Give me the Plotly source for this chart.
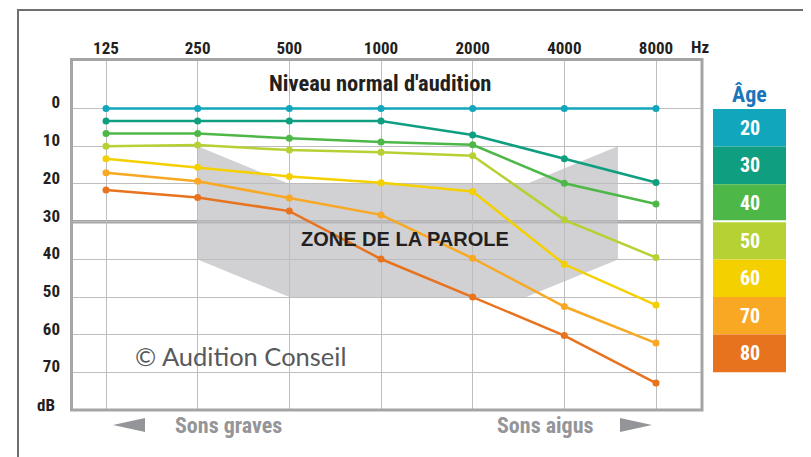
import numpy as np
import plotly.graph_objects as go

# audiogram data (dB hearing loss per frequency, by age group)
freqs = [125, 250, 500, 1000, 2000, 4000, 8000]
freq_labels = ["125", "250", "500", "1000", "2000", "4000", "8000"]
db_ticks = [0, 10, 20, 30, 40, 50, 60, 70]
ages = ["20", "30", "40", "50", "60", "70", "80"]
loss_20 = [0, 0, 0, 0, 0, 0, 0]
loss_30 = [3.3, 3.3, 3.3, 3.3, 7.0, 13.3, 19.6]
loss_40 = [6.6, 6.6, 7.9, 8.9, 9.6, 19.8, 25.3]
loss_50 = [10.0, 9.7, 11.0, 11.6, 12.5, 29.5, 39.5]
loss_60 = [13.3, 15.6, 18.0, 19.7, 22.0, 41.3, 52.1]
loss_70 = [17.0, 19.3, 23.7, 28.2, 39.7, 52.5, 62.2]
loss_80 = [21.6, 23.6, 27.2, 39.9, 50.0, 60.2, 72.8]
# speech zone outline
zone_freqs = [250, 500, 3000, 6000, 6000, 3000, 500, 250]
zone_db = [10, 20, 20, 10, 40, 50, 50, 40]

colors = ["#12a6bd", "#109e80", "#4db848", "#b6d134", "#f4d000", "#f8a822", "#e8731f"]
series = [loss_20, loss_30, loss_40, loss_50, loss_60, loss_70, loss_80]

NARROW = "Liberation Sans Narrow, Roboto Condensed, DejaVu Sans Condensed, Arial Narrow, sans-serif"

# plot area in page pixels: x 70..703, y 58..411 (page body has an 8px margin)
def px(x):
    return (x - 70) / 633.0

def py(y):
    return (411 - y) / 353.0

fig = go.Figure()

# semi-transparent so the grid still shows through the speech zone
fig.add_trace(go.Scatter(
    x=zone_freqs, y=zone_db, fill="toself", mode="lines",
    line=dict(width=0), fillcolor="rgba(189,190,193,0.7)",
    hoverinfo="skip", showlegend=False))

for age, vals, col in zip(ages, series, colors):
    fig.add_trace(go.Scatter(
        x=freqs, y=vals, mode="lines+markers", name=age,
        line=dict(color=col, width=2.5), marker=dict(color=col, size=7),
        showlegend=False))

lx = np.log10(2)
fig.update_xaxes(
    type="log", side="top",
    range=[np.log10(freqs[0]) - 36 / 91.67 * lx, np.log10(freqs[-1]) + 47 / 91.67 * lx],
    tickvals=freqs, ticktext=["<b>%s</b>" % t for t in freq_labels],
    tickfont=dict(family=NARROW, size=17, color="#231f20"),
    showgrid=True, gridcolor="#bdbdbd", gridwidth=1, zeroline=False,
    ticks="", showline=False)
fig.update_yaxes(
    range=[80.2, -13.4], tickvals=db_ticks,
    ticktext=["<b>%d</b>" % t for t in db_ticks],
    tickfont=dict(family=NARROW, size=17, color="#231f20"),
    showgrid=True, gridcolor="#bdbdbd", gridwidth=1, zeroline=False,
    ticks="", showline=False, ticklabelstandoff=9, ticklabelshift=6)

shapes = []
# thick 30 dB line
shapes.append(dict(type="line", xref="paper", yref="y", x0=0, x1=1, y0=30, y1=30,
                   line=dict(color="#a5a5a7", width=3.5), layer="between"))
# plot frame
shapes.append(dict(type="rect", xref="paper", yref="paper", x0=px(71.5), x1=px(702), y0=py(410), y1=py(59.5),
                   line=dict(color="#a5a5a7", width=3)))
# outer border
shapes.append(dict(type="rect", xref="paper", yref="paper", x0=px(18), x1=px(830), y0=py(480), y1=py(10),
                   line=dict(color="#6d6e70", width=2)))
# direction arrows
shapes.append(dict(type="path", xref="paper", yref="paper",
                   path="M %f %f L %f %f L %f %f Z" % (px(113), py(425), px(145), py(418), px(145), py(432)),
                   fillcolor="#939598", line=dict(width=0)))
shapes.append(dict(type="path", xref="paper", yref="paper",
                   path="M %f %f L %f %f L %f %f Z" % (px(652), py(425), px(620), py(418), px(620), py(432)),
                   fillcolor="#939598", line=dict(width=0)))

annotations = []
def note(text, x, y, size, color="#231f20", family=NARROW):
    annotations.append(dict(text=text, xref="paper", yref="paper", x=px(x), y=py(y),
                            xanchor="center", yanchor="middle", showarrow=False,
                            font=dict(family=family, size=size, color=color)))

note("<b>Niveau normal d'audition</b>", 380, 83, 22.5)
note("<b>Hz</b>", 700, 47, 17)
note("<b>dB</b>", 46, 405, 17)
note("<b>ZONE DE LA PAROLE</b>", 405, 239, 20, family="Liberation Sans, Arial, sans-serif")
note("© Audition Conseil", 240, 356, 25.5, color="#58595b", family="Lato, Open Sans, sans-serif")
note("<b>Sons graves</b>", 228, 425, 22, color="#939598")
note("<b>Sons aigus</b>", 545, 425, 22, color="#939598")
note("<b>Âge</b>", 749, 95, 22, color="#1b75bb")

# age colour key
top = 109.0
h = 37.6
for i, (age, col) in enumerate(zip(ages, colors)):
    y0 = top + i * h
    y1 = y0 + h
    if i == 2:
        y1 -= 1.5
    if i == 3:
        y0 += 0.5
    shapes.append(dict(type="rect", xref="paper", yref="paper", x0=px(713), x1=px(786),
                       y0=py(y1), y1=py(y0), fillcolor=col, line=dict(width=0)))
    note("<b>%s</b>" % age, 749.5, top + i * h + h / 2, 20, color="white")

# margins shifted by the 8px page margin so the plot lands where the reference has it
fig.update_layout(
    width=811, height=457,
    margin=dict(l=62, r=116, t=50, b=54),
    paper_bgcolor="white", plot_bgcolor="white",
    shapes=shapes, annotations=annotations,
    showlegend=False)

fig.write_html("out.html")
